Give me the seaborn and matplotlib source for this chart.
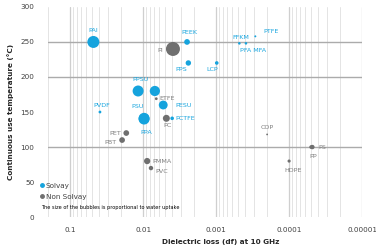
import numpy as np
import pandas as pd
import matplotlib
matplotlib.use('Agg')
import matplotlib.pyplot as plt
import matplotlib.ticker as ticker
from matplotlib.lines import Line2D
import seaborn as sns

# ---------------- DATA ----------------#
names = ['PAI', 'PI', 'PEEK', 'PPS', 'LCP', 'FFKM', 'PFA MFA', 'PTFE',
         'PPSU', '', 'ETFE', 'PESU', 'PVDF', 'PSU', 'PPA', 'PC', 'PCTFE',
         'PET', 'PBT', 'PMMA', 'PVC', 'COP', 'PS', 'PP', 'HDPE']
df_loss = [0.048, 0.0039, 0.0025, 0.0024, 0.00098, 0.00048, 0.00039, 0.00029,
           0.0117, 0.0069, 0.0066, 0.0053, 0.039, 0.0097, 0.0097, 0.0048, 0.0040,
           0.017, 0.0194, 0.0088, 0.0078, 0.0002, 0.000048, 0.00005, 0.0001]
temp = [250, 240, 250, 220, 220, 248, 248, 258,
        180, 180, 169, 160, 150, 141, 140, 141, 141,
        120, 110, 80, 70, 118, 100, 100, 80]
group = ['Solvay', 'Non Solvay', 'Solvay', 'Solvay', 'Solvay', 'Solvay', 'Solvay', 'Solvay',
         'Solvay', 'Solvay', 'Non Solvay', 'Solvay', 'Solvay', 'Solvay', 'Solvay', 'Non Solvay', 'Solvay',
         'Non Solvay', 'Non Solvay', 'Non Solvay', 'Non Solvay', 'Non Solvay', 'Non Solvay', 'Non Solvay', 'Non Solvay']
water_uptake = [2.2, 3.0, 0.5, 0.45, 0.2, 0.1, 0.1, 0.06,
                1.85, 1.6, 0.12, 1.2, 0.12, 1.85, 1.85, 0.75, 0.2,
                0.5, 0.5, 0.6, 0.3, 0.05, 0.3, 0.2, 0.15]

# label offsets (points) and alignment -- style only
label_pos = {
    'PAI': (0, 8, 'center'), 'PI': (-7, -1, 'right'), 'PEEK': (2, 7, 'center'),
    'PPS': (-5, -5, 'center'), 'LCP': (-3, -5, 'center'), 'FFKM': (1, 4.5, 'center'),
    'PFA MFA': (5, -5, 'center'), 'PTFE': (6, 3.5, 'left'), 'PPSU': (1.5, 8, 'center'),
    'ETFE': (2, 0.5, 'left'), 'PESU': (8.5, 0, 'left'), 'PVDF': (1, 5, 'center'),
    'PSU': (-4.5, 8.5, 'center'), 'PPA': (1.5, -10, 'center'), 'PC': (1, -5, 'center'),
    'PCTFE': (2, 0, 'left'), 'PET': (-4, 0, 'right'), 'PBT': (-4, -1.5, 'right'),
    'PMMA': (4, -0.5, 'left'), 'PVC': (3, -2.5, 'left'), 'COP': (0, 5, 'center'),
    'PS': (4.5, 0, 'left'), 'PP': (1.5, -7, 'center'), 'HDPE': (3, -7, 'center'),
}

data = pd.DataFrame({'Name': names, 'Dielectric loss': df_loss, 'Temperature': temp,
                     'Group': group, 'Water uptake': water_uptake})

blue = '#15A3DD'
grey = '#6F6F6F'
palette = {'Solvay': blue, 'Non Solvay': grey}
text_col = {'Solvay': '#1AA6DF', 'Non Solvay': '#7F7F7F'}

font = 5.2

sns.set_theme(style='white')
plt.rcParams['font.family'] = ['DejaVu Sans']
plt.rcParams.update({'font.size': font})

fig = plt.figure(figsize=(3.76, 2.47), dpi=100)
ax = fig.add_axes([0.128, 0.121, 0.835, 0.851])

ax.set_xscale('log')
ax.set_xlim(0.2, 0.00001)
ax.set_ylim(0, 300)

# grid
ax.xaxis.set_major_locator(ticker.LogLocator(base=10, numticks=10))
ax.xaxis.set_minor_locator(ticker.LogLocator(base=10, subs=np.arange(2, 10), numticks=10))
ax.grid(which='minor', axis='x', color='#E4E4E4', lw=0.7)
ax.grid(which='major', axis='x', color='#CFCFCF', lw=0.9)
ax.grid(False, axis='y')
for yv in [100, 200, 250]:
    ax.axhline(yv, color='#ABABAB', lw=1.0, zorder=1)

sns.scatterplot(data=data, x='Dielectric loss', y='Temperature', hue='Group',
                palette=palette, size='Water uptake', sizes=(0, 101.6),
                size_norm=(0, 3.0), linewidth=0,
                legend=False, ax=ax, zorder=3)

for _, row in data.iterrows():
    if row['Name'] == '':
        continue
    dx, dy, ha = label_pos[row['Name']]
    ax.annotate(row['Name'], (row['Dielectric loss'], row['Temperature']),
                xytext=(dx, dy), textcoords='offset points', ha=ha, va='center',
                fontsize=4.6, color=text_col[row['Group']], zorder=4)

for s in ax.spines.values():
    s.set_visible(False)
ax.tick_params(axis='both', which='both', length=0, labelsize=font, colors='#404040')
ax.tick_params(axis='x', pad=7)
ax.tick_params(axis='y', pad=10)
ax.set_yticks(range(0, 301, 50))
ax.set_xticks([0.1, 0.01, 0.001, 0.0001, 0.00001])
ax.set_xticklabels(['0.1', '0.01', '0.001', '0.0001', '0.00001'])

ax.set_xlabel('Dielectric loss (df) at 10 GHz', fontsize=font, fontweight='bold', color='#262626')
ax.set_ylabel('Continuous use temperature (°C)', fontsize=font, fontweight='bold', color='#262626')
ax.xaxis.set_label_coords(0.55, -0.105)
ax.yaxis.set_label_coords(-0.11, 0.5)

handles = [Line2D([], [], marker='o', ls='', color=blue, markersize=2.5, label='Solvay'),
           Line2D([], [], marker='o', ls='', color=grey, markersize=2.5, label='Non Solvay')]
leg = fig.legend(handles=handles, loc='upper left', bbox_to_anchor=(0.095, 0.275),
                 frameon=False, fontsize=font, handletextpad=0.1, handlelength=0.8,
                 labelspacing=0.7, borderpad=0.0)
for t in leg.get_texts():
    t.set_color('#404040')
fig.text(0.109, 0.158, 'The size of the bubbles is proportional to water uptake',
         fontsize=3.6, color='black', va='center')

plt.savefig('out.png', dpi=100)
